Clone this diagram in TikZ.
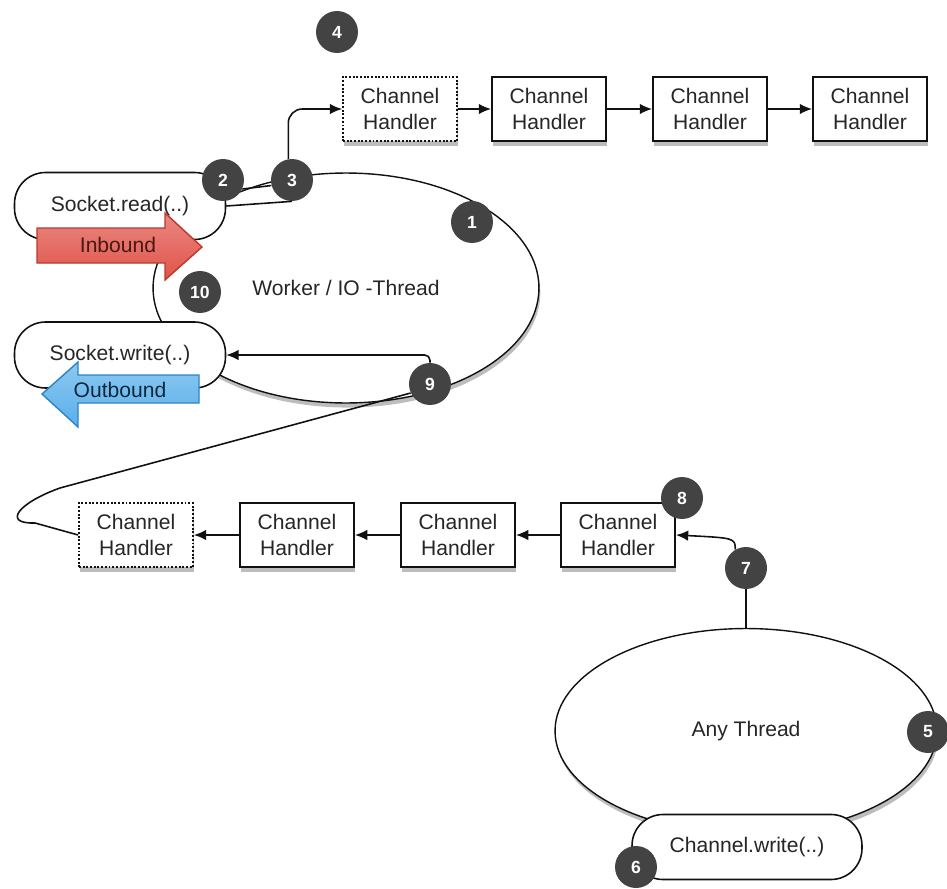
\documentclass[tikz,border=0pt]{standalone}
\usepackage{fontspec}
\setsansfont{Liberation Sans}
\usetikzlibrary{arrows.meta, positioning, shapes.geometric}
\definecolor{c1}{HTML}{111111}
\definecolor{badgegray}{HTML}{434343}
\definecolor{inred}{HTML}{E0544A}
\definecolor{inredline}{HTML}{B8392E}
\definecolor{outblue}{HTML}{5AB0EA}
\definecolor{outblueline}{HTML}{2C84C8}
\definecolor{labelcolor}{HTML}{262626}
\definecolor{shadowgray}{HTML}{BDBDBD}

\begin{document}
\begin{tikzpicture}[
    x=0.02cm, y=-0.02cm,
    every node/.style={font=\sffamily},
    softshadow/.style={preaction={draw=none, fill=shadowgray,
        transform canvas={xshift=0.8pt, yshift=-2.6pt}}},
    handler/.style={
        rectangle, draw=c1, fill=white, line width=1.1pt, softshadow,
        minimum width=2.28cm, minimum height=1.28cm, align=center,
        text=labelcolor, font=\sffamily\fontsize{12}{14.5}\selectfont,
    },
    lasthandler/.style={handler, densely dotted, line width=1pt},
    thread/.style={
        ellipse, draw=c1, fill=white, line width=0.8pt, inner sep=0pt, softshadow,
        text=labelcolor, font=\sffamily\fontsize{12}{14.5}\selectfont,
    },
    call/.style={
        rectangle, rounded corners=0.62cm, draw=c1, fill=white, line width=0.9pt,
        text=labelcolor, font=\sffamily\fontsize{12}{14.5}\selectfont,
    },
    badge/.style={
        circle, fill=badgegray, text=white, minimum size=0.84cm, inner sep=0pt,
        font=\sffamily\bfseries\fontsize{10}{12}\selectfont,
    },
    flowtext/.style={font=\sffamily\fontsize{12}{14.5}\selectfont},
    arr/.style={-{Latex[length=7pt, width=6pt]}, line width=0.9pt, color=c1},
    wire/.style={line width=0.9pt, color=c1},
]
\useasboundingbox (0,0) rectangle (947,889);

% ============================================================ the two threads
\node[thread, minimum width=7.72cm, minimum height=4.6cm] (worker) at (346,288)
    {Worker / IO -Thread};
\node[thread, minimum width=7.64cm, minimum height=4.1cm] (any) at (746,731)
    {Any Thread};

% the calls sitting on the thread rims
\node[call, minimum width=4.22cm, minimum height=1.34cm] (read) at (120,206) {Socket.read(..)};
\node[call, minimum width=4.22cm, minimum height=1.32cm] (write) at (120,355) {Socket.write(..)};
\node[call, minimum width=4.6cm, minimum height=1.3cm] (chwrite) at (747,847) {Channel.write(..)};

% ============================================================ inbound handlers
\node[lasthandler] (h1) at (400,109) {Channel\\Handler};
\foreach \n/\x in {2/549, 3/710, 4/870}{
    \node[handler] (h\n) at (\x,109) {Channel\\Handler};
}
\foreach \i/\j in {1/2, 2/3, 3/4}{
    \draw[arr] (h\i) -- (h\j);
}

% ============================================================ outbound handlers
\node[lasthandler] (g1) at (136,535) {Channel\\Handler};
\foreach \n/\x in {2/297, 3/458, 4/618}{
    \node[handler] (g\n) at (\x,535) {Channel\\Handler};
}
\foreach \i/\j in {4/3, 3/2, 2/1}{
    \draw[arr] (g\i) -- (g\j);
}

% ============================================================ direction arrows
\draw[inredline, line width=0.8pt, top color=inred!70!white, bottom color=inred]
    (37,228) -- (165,228) -- (165,213) -- (202,247) -- (165,280) -- (165,263)
    -- (37,263) -- cycle;
\node[flowtext, text=inredline!40!black] (inbound) at (118,245) {Inbound};

\draw[outblueline, line width=0.8pt, top color=outblue!70!white, bottom color=outblue]
    (199,375) -- (78,375) -- (78,362) -- (42,394) -- (78,427) -- (78,403)
    -- (199,403) -- cycle;
\node[flowtext, text=outblueline!30!black] (outbound) at (120,390) {Outbound};

% ============================================================ the numbered steps
\foreach \n/\x/\y in {1/472/222, 2/223/180, 3/292/180, 4/337/32, 5/928/732,
                      6/636/867, 7/746/568, 8/682/498, 9/430/384, 10/200/292}{
    \node[badge] (b\n) at (\x,\y) {\n};
}

% read side: socket into the first handler
\draw[wire] (read.east) -- (b3.south);
\draw[wire] (b2.-25) -- (b3.195);
\draw[arr, rounded corners=8pt] (b3.100) |- (h1.west);

% write side: from any thread back to the socket
\draw[wire] (b7.south) -- (any.north);
\draw[arr] (b7.120) .. controls (735,538) .. (g4.east);
\draw[wire] (g1.west) -- (35,523) .. controls (2,524) and (18,503) .. (60,488) -- (b9.205);
\draw[arr, rounded corners=3pt] (b9.north) |- (write.east);

\end{tikzpicture}
\end{document}
